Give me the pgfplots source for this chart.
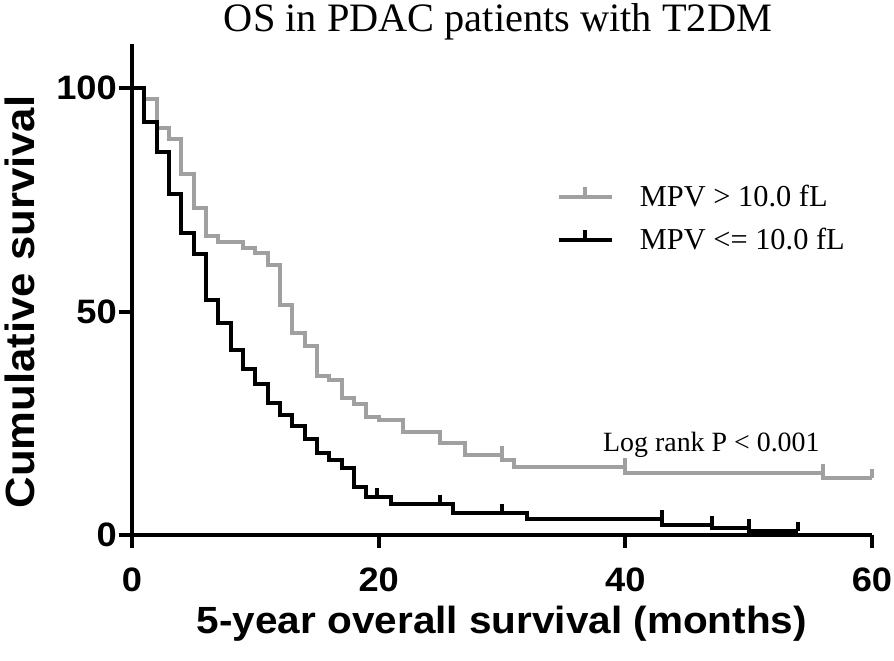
\documentclass[border=0pt]{standalone}
\usepackage{pgfplots}
\pgfplotsset{compat=1.18}
\usepackage{fontspec}
\setmainfont{Liberation Serif}
\setsansfont{Liberation Sans}
\newfontfamily\axfont[FakeStretch=1.07]{Liberation Sans}
\definecolor{kmgray}{RGB}{160,160,160}
\pgfdeclareplotmark{cens}{\pgfpathmoveto{\pgfpoint{0pt}{0pt}}\pgfpathlineto{\pgfpoint{0pt}{9bp}}\pgfusepathqstroke}
\begin{document}
\begin{tikzpicture}
\useasboundingbox (-132bp,-126bp) rectangle (762bp,535bp);
\begin{axis}[
  at={(0,0)}, anchor=south west,
  scale only axis, width=740bp, height=491.4bp,
  xmin=0, xmax=60, ymin=0, ymax=110,
  axis lines=left,
  axis line style={-, line width=4bp},
  clip=false,
  xtick={0,20,40,60}, ytick={0,50,100},
  minor tick num=0,
  tick align=outside,
  major tick length=13bp,
  tick style={line width=4bp, black},
  /pgf/number format/assume math mode=true,
  tick label style={font=\axfont\bfseries\fontsize{34}{34}\selectfont},
  xticklabel style={inner sep=0bp, anchor=center, yshift=-32bp},
  yticklabel style={inner sep=2bp},
  xlabel={5-year overall survival (months)},
  ylabel={Cumulative survival},
  xlabel style={font=\axfont\bfseries\fontsize{38}{38}\selectfont, at={(axis description cs:0.5,0)}, anchor=center, yshift=-89bp},
  ylabel style={font=\axfont\bfseries\fontsize{41}{41}\selectfont, at={(axis description cs:-0.152,0.474)}, anchor=center},
  legend style={draw=none, fill=none, at={(0.574,0.645)}, anchor=west,
    font=\fontsize{30.5}{30.5}\selectfont, inner sep=0pt,
    nodes={inner sep=0pt}, row sep=19.5bp,
    /tikz/every odd column/.append style={column sep=26bp}},
  legend cell align=left,
  legend image code/.code={\draw[#1,mark=none] (0bp,0bp) -- (53bp,0bp);
    \draw[#1,mark=none] (26.5bp,0bp) -- (26.5bp,10bp);},
]
\addplot[const plot, kmgray, line width=4bp] coordinates {
(0,100) (1,97.5) (2,91.2) (3,88.7) (4,80.9) (5,73.3) (6,67.0) (7,65.5)
(9,64.2) (10,63.2) (11,60.5) (12,51.4) (13,45.2) (14,42.2) (15,35.6)
(16,34.7) (17,30.6) (18,29.3) (19,26.5) (20,25.7) (22,23.0) (25,20.5)
(27,17.9) (30,16.8) (31,15.2) (40,13.9) (56,12.7) (60,12.7)};
\addlegendentry{MPV > 10.0 fL}
\addplot[const plot, black, line width=4bp] coordinates {
(0,100) (1,92.5) (2,85.7) (3,76.3) (4,67.7) (5,62.9) (6,52.6) (7,47.5)
(8,41.4) (9,37.1) (10,33.7) (11,29.5) (12,26.8) (13,24.5) (14,21.6)
(15,18.4) (16,16.8) (17,14.9) (18,10.7) (19,8.6) (21,7.0) (26,5.0)
(32,3.5) (43,2.3) (47,1.5) (50,0.8) (54,0.8)};
\addlegendentry{MPV <= 10.0 fL}
\addplot[only marks, mark=cens, kmgray, line width=4bp, forget plot] coordinates {
(30,17.9) (40,15.2) (56,13.9) (60,12.7)};
\addplot[only marks, mark=cens, black, line width=4bp, forget plot] coordinates {
(19.9,8.6) (25,7.0) (30,5.0) (43,3.5) (47,2.3) (50,1.5) (54,0.8)};
\end{axis}
\node[anchor=base, inner sep=0pt, font=\fontsize{40.5}{40.5}\selectfont] at (366bp,503bp) {OS in PDAC patients with T2DM};
\node[anchor=base west, inner sep=0pt, font=\fontsize{28}{28}\selectfont] at (471bp,83bp) {Log rank P < 0.001};
\end{tikzpicture}
\end{document}
